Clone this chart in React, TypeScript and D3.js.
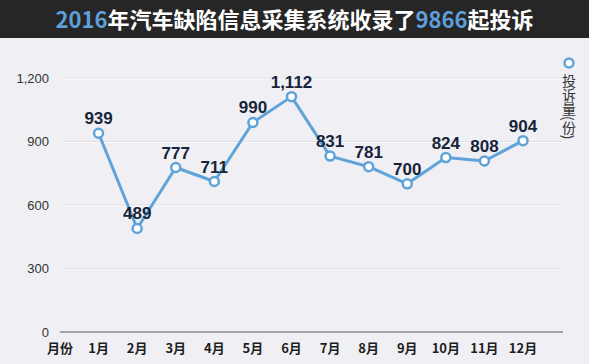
import React from "react";
import * as d3 from "d3";

const categories = ["月份", "1月", "2月", "3月", "4月", "5月", "6月", "7月", "8月", "9月", "10月", "11月", "12月"];
const months = ["1月", "2月", "3月", "4月", "5月", "6月", "7月", "8月", "9月", "10月", "11月", "12月"];
const complaints = [939, 489, 777, 711, 990, 1112, 831, 781, 700, 824, 808, 904];
const yTicks = [0, 300, 600, 900, 1200];
const seriesName = "投诉量(份)";

const W = 589;
const H = 364;
const LINE = "#5fa3d9";

export default function App() {
  const x = d3.scalePoint<string>().domain(categories).range([60, 523]);
  const y = d3.scaleLinear().domain([0, 1200]).range([332, 78]);
  const fmt = d3.format(",");
  const line = d3
    .line<number>()
    .x((_, i) => x(months[i]) as number)
    .y((d) => y(d));

  return (
    <svg
      width={W}
      height={H}
      style={{ position: "absolute", left: 0, top: 0, display: "block" }}
    >
      <rect x={0} y={0} width={W} height={H} fill="#f0f0f4" />
      <rect x={0} y={0} width={W} height={38} fill="#262626" />
      <text
        x={W / 2}
        y={28}
        textAnchor="middle"
        fontFamily="'Noto Sans CJK SC', sans-serif"
        fontWeight="bold"
        fontSize={22}
        fill="#ffffff"
      >
        <tspan fill="#5e9fdc">2016</tspan>
        <tspan>年汽车缺陷信息采集系统收录了</tspan>
        <tspan fill="#5e9fdc">9866</tspan>
        <tspan>起投诉</tspan>
      </text>

      {yTicks.filter((t) => t > 0).map((t) => (
        <g key={t}>
          <line x1={62} x2={562} y1={y(t)} y2={y(t)} stroke="#e0e0e5" strokeWidth={1} />
          <line x1={62} x2={562} y1={y(t) + 1} y2={y(t) + 1} stroke="#fafafc" strokeWidth={1} />
        </g>
      ))}
      <line x1={60} x2={563} y1={y(0)} y2={y(0)} stroke="#8a8a8e" strokeWidth={1.5} />

      {yTicks.map((t) => (
        <text
          key={t}
          x={49}
          y={y(t)}
          dy="0.35em"
          textAnchor="end"
          fontFamily="'Liberation Sans', Arial, sans-serif"
          fontSize={13}
          fill="#333333"
        >
          {fmt(t)}
        </text>
      ))}

      {categories.map((c) => (
        <text
          key={c}
          x={x(c) as number}
          y={353}
          textAnchor="middle"
          fontFamily="'Noto Sans CJK SC', sans-serif"
          fontWeight="bold"
          fontSize={13}
          fill="#1e1e1e"
        >
          {c}
        </text>
      ))}

      <path d={line(complaints) as string} fill="none" stroke={LINE} strokeWidth={3} strokeLinejoin="round" />
      {complaints.map((v, i) => (
        <circle
          key={i}
          cx={x(months[i]) as number}
          cy={y(v)}
          r={4.5}
          fill="#ffffff"
          stroke={LINE}
          strokeWidth={2.5}
        />
      ))}
      {complaints.map((v, i) => (
        <text
          key={"l" + i}
          x={x(months[i]) as number}
          y={y(v) - 9}
          textAnchor="middle"
          fontFamily="'Liberation Sans', Arial, sans-serif"
          fontWeight="bold"
          fontSize={17}
          fill="#17243a"
        >
          {fmt(v)}
        </text>
      ))}

      <circle cx={569} cy={63} r={4.5} fill="#ffffff" stroke={LINE} strokeWidth={2.5} />
      <text
        x={569}
        y={74}
        style={{ writingMode: "vertical-rl" } as React.CSSProperties}
        fontFamily="'Noto Sans CJK SC', sans-serif"
        fontSize={14}
        fill="#333333"
      >
        {seriesName}
      </text>
    </svg>
  );
}
